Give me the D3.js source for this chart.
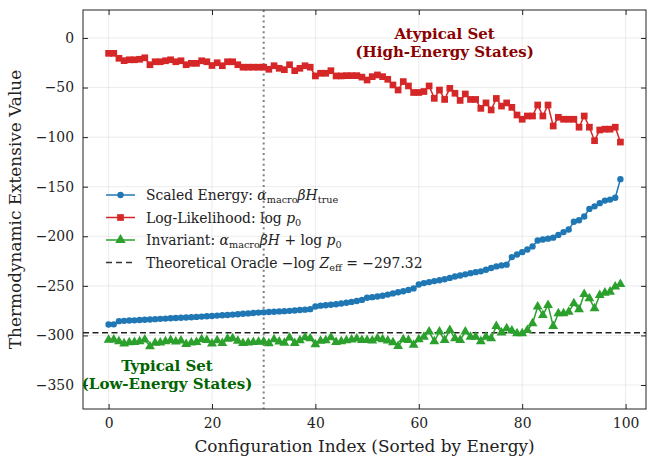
<!DOCTYPE html>
<html>
<head>
<meta charset="utf-8">
<script src="https://cdn.jsdelivr.net/npm/d3@7"></script>
<style>
  body { margin: 0; background: #fff; }
  svg { font-family: "DejaVu Serif", serif; }
</style>
</head>
<body>
<div id="chart"></div>
<script>
// values, index 0..99
var energy = [-289.0,-288.8,-285.6,-285.3,-285.0,-284.8,-284.5,-284.2,-284.0,-283.6,
  -283.3,-283.0,-282.7,-282.4,-282.2,-281.9,-281.6,-281.3,-281.0,-280.7,
  -280.4,-280.0,-279.7,-279.4,-279.0,-278.6,-278.2,-277.8,-277.4,-277.0,
  -276.7,-276.4,-276.1,-275.8,-275.5,-275.2,-274.8,-274.4,-274.0,-273.5,
  -270.8,-270.0,-269.5,-269.0,-268.5,-267.8,-267.0,-266.2,-265.3,-264.2,
  -262.0,-261.4,-260.8,-260.0,-258.8,-257.6,-256.5,-255.4,-254.2,-252.6,
  -248.6,-247.2,-246.2,-245.2,-244.4,-243.4,-242.0,-240.6,-239.6,-238.4,
  -237.2,-236.2,-235.4,-233.8,-232.0,-230.4,-229.4,-228.6,-221.0,-218.4,
  -216.0,-213.4,-210.2,-204.2,-203.2,-202.4,-201.4,-198.6,-195.8,-193.2,
  -185.4,-183.8,-180.0,-172.4,-169.8,-166.6,-164.0,-163.0,-161.2,-142.4];

var logLik = [-15.5,-15.5,-20.5,-22.9,-22.0,-22.0,-21.5,-20.0,-27.0,-24.0,
  -24.0,-23.0,-22.0,-24.0,-23.0,-27.0,-25.6,-25.6,-23.0,-24.0,
  -27.8,-25.0,-28.0,-24.0,-24.0,-27.0,-29.5,-29.5,-29.5,-29.5,
  -29.5,-31.6,-28.0,-30.6,-32.0,-27.0,-33.0,-30.6,-28.0,-29.5,
  -38.3,-35.6,-35.6,-33.0,-38.3,-38.3,-38.0,-38.0,-38.0,-39.5,
  -42.4,-39.0,-37.3,-39.0,-41.7,-47.4,-52.5,-44.0,-48.4,-55.0,
  -55.0,-54.0,-48.4,-60.9,-52.5,-62.0,-50.8,-55.8,-63.0,-56.5,
  -62.0,-62.0,-71.0,-65.5,-72.6,-61.0,-68.7,-65.5,-70.0,-77.7,
  -82.0,-78.7,-78.7,-67.6,-78.7,-67.6,-88.8,-80.0,-82.0,-82.0,
  -82.0,-90.0,-78.7,-90.0,-103.6,-92.8,-92.0,-92.0,-90.0,-105.0];

var invariant = [-304.5,-304.3,-306.1,-308.2,-307.0,-306.8,-306.0,-304.2,-311.0,-307.6,
  -307.3,-306.0,-304.7,-306.4,-305.2,-308.9,-307.2,-306.9,-304.0,-304.7,
  -308.2,-305.0,-307.7,-303.4,-303.0,-305.6,-307.7,-307.3,-306.9,-306.5,
  -306.2,-308.0,-304.1,-306.4,-307.5,-302.2,-307.8,-305.0,-302.0,-303.0,
  -309.1,-305.6,-305.1,-302.0,-306.8,-306.1,-305.0,-304.2,-303.3,-304.7,
  -304.7,-305.4,-303.0,-304.0,-305.4,-307.0,-310.8,-304.0,-304.7,-309.5,
  -304.0,-301.4,-296.3,-306.0,-296.3,-304.7,-294.6,-303.0,-304.7,-296.3,
  -301.4,-301.4,-306.0,-301.4,-303.0,-290.6,-297.3,-293.0,-295.3,-298.0,
  -298.0,-294.6,-288.0,-271.1,-279.5,-269.4,-290.6,-277.8,-277.8,-276.2,
  -267.7,-273.8,-258.3,-262.7,-272.8,-259.4,-257.0,-256.0,-250.9,-248.2];

var oracle = -297.32;
var splitIndex = 30;
var xTicks = [0, 20, 40, 60, 80, 100];
var yTicks = [0, -50, -100, -150, -200, -250, -300, -350];

var W = 652, H = 456;
var margin = {top: 10, right: 6, bottom: 47, left: 83};
var width = W - margin.left - margin.right;
var height = H - margin.top - margin.bottom;

var svg = d3.select("#chart").append("svg")
  .attr("width", W).attr("height", H);

var x = d3.scaleLinear().domain([-4.95, 103.95]).range([0, width]);
var y = d3.scaleLinear().domain([-374.2, 28.2]).range([height, 0]);

var g = svg.append("g")
  .attr("transform", "translate(" + margin.left + "," + margin.top + ")");

var fmt = function(d) { return d < 0 ? "\u2212" + Math.abs(d) : "" + d; };

// grid
g.append("g").selectAll("line").data(xTicks).enter().append("line")
  .attr("x1", function(d) { return x(d); }).attr("x2", function(d) { return x(d); })
  .attr("y1", 0).attr("y2", height)
  .attr("stroke", "#b0b0b0").attr("stroke-opacity", 0.3).attr("stroke-width", 0.8);
g.append("g").selectAll("line").data(yTicks).enter().append("line")
  .attr("y1", function(d) { return y(d); }).attr("y2", function(d) { return y(d); })
  .attr("x1", 0).attr("x2", width)
  .attr("stroke", "#b0b0b0").attr("stroke-opacity", 0.3).attr("stroke-width", 0.8);

// axes, ticks pointing in
var xAxis = g.append("g").attr("transform", "translate(0," + height + ")")
  .call(d3.axisBottom(x).tickValues(xTicks).tickSizeInner(-5).tickSizeOuter(0).tickPadding(9).tickFormat(fmt));
var xAxisTop = g.append("g")
  .call(d3.axisTop(x).tickValues(xTicks).tickSizeInner(-5).tickSizeOuter(0).tickFormat(""));
var yAxis = g.append("g")
  .call(d3.axisLeft(y).tickValues(yTicks).tickSizeInner(-5).tickSizeOuter(0).tickPadding(9).tickFormat(fmt));
var yAxisRight = g.append("g").attr("transform", "translate(" + width + ",0)")
  .call(d3.axisRight(y).tickValues(yTicks).tickSizeInner(-5).tickSizeOuter(0).tickFormat(""));
[xAxis, xAxisTop, yAxis, yAxisRight].forEach(function(a) {
  a.select(".domain").remove();
  a.selectAll("line").attr("stroke", "#222").attr("stroke-width", 1);
  a.selectAll("text").attr("font-family", "DejaVu Serif").attr("font-size", 13.9).attr("fill", "#222");
});

// reference lines
g.append("line")
  .attr("x1", x(splitIndex)).attr("x2", x(splitIndex)).attr("y1", 0).attr("y2", height)
  .attr("stroke", "#808080").attr("stroke-width", 2).attr("stroke-dasharray", "2,3.3");
g.append("line")
  .attr("x1", 0).attr("x2", width).attr("y1", y(oracle)).attr("y2", y(oracle))
  .attr("stroke", "#222").attr("stroke-width", 1.5).attr("stroke-dasharray", "6,3.5");

var line = d3.line().x(function(d, i) { return x(i); }).y(function(d) { return y(d); });

var series = [
  {data: energy, color: "#1f77b4", shape: d3.symbolCircle, size: 32},
  {data: logLik, color: "#d62728", shape: d3.symbolSquare, size: 45},
  {data: invariant, color: "#2ca02c", shape: d3.symbolTriangle, size: 42}
];

series.forEach(function(s) {
  g.append("path").datum(s.data)
    .attr("fill", "none").attr("stroke", s.color).attr("stroke-width", 1.5)
    .attr("d", line);
  g.append("g").selectAll("path").data(s.data).enter().append("path")
    .attr("d", d3.symbol().type(s.shape).size(s.size))
    .attr("transform", function(d, i) { return "translate(" + x(i) + "," + y(d) + ")"; })
    .attr("fill", s.color);
});

// frame
g.append("rect").attr("width", width).attr("height", height)
  .attr("fill", "none").attr("stroke", "#222").attr("stroke-width", 1);

// annotations
var atyp = g.append("text").attr("text-anchor", "middle")
  .attr("font-weight", "bold").attr("font-size", 15).attr("fill", "#8b0000");
atyp.append("tspan").attr("x", x(65)).attr("y", y(-1)).text("Atypical Set");
atyp.append("tspan").attr("x", x(65)).attr("dy", 18).text("(High-Energy States)");

var typ = g.append("text").attr("text-anchor", "middle")
  .attr("font-weight", "bold").attr("font-size", 15).attr("fill", "#006400");
typ.append("tspan").attr("x", x(11.3)).attr("y", y(-336)).text("Typical Set");
typ.append("tspan").attr("x", x(11.3)).attr("dy", 18).text("(Low-Energy States)");

// legend
var legend = g.append("g").attr("transform", "translate(23,185)");
var legendItems = [
  {color: "#1f77b4", shape: d3.symbolCircle, size: 32, dash: null},
  {color: "#d62728", shape: d3.symbolSquare, size: 45, dash: null},
  {color: "#2ca02c", shape: d3.symbolTriangle, size: 48, dash: null},
  {color: "#333", shape: null, size: 0, dash: "6,4"}
];
var rowH = 22.5;
legendItems.forEach(function(it, i) {
  var row = legend.append("g").attr("transform", "translate(0," + (i * rowH) + ")");
  row.append("line").attr("x1", 0).attr("x2", 29).attr("y1", 0).attr("y2", 0)
    .attr("stroke", it.color).attr("stroke-width", 1.5)
    .attr("stroke-dasharray", it.dash);
  if (it.shape) {
    row.append("path").attr("d", d3.symbol().type(it.shape).size(it.size))
      .attr("transform", "translate(14.5,0)").attr("fill", it.color);
  }
});

function addLabel(i, parts) {
  var t = legend.append("text").attr("x", 40).attr("y", i * rowH + 5)
    .attr("font-size", 13.9).attr("fill", "#222");
  parts.forEach(function(p) {
    var ts = t.append("tspan").text(p.t);
    if (p.it) ts.attr("font-style", "italic");
    if (p.sub) ts.attr("font-size", 9.7).attr("dy", 3);
    if (p.up) ts.attr("dy", -3);
  });
}
addLabel(0, [{t: "Scaled Energy: "}, {t: "\u03b1", it: 1}, {t: "macro", sub: 1}, {t: "\u03b2H", it: 1, up: 1}, {t: "true", sub: 1}]);
addLabel(1, [{t: "Log-Likelihood: log "}, {t: "p", it: 1}, {t: "0", sub: 1}]);
addLabel(2, [{t: "Invariant: "}, {t: "\u03b1", it: 1}, {t: "macro", sub: 1}, {t: "\u03b2H", it: 1, up: 1}, {t: " + log "}, {t: "p", it: 1}, {t: "0", sub: 1}]);
addLabel(3, [{t: "Theoretical Oracle \u2212log "}, {t: "Z", it: 1}, {t: "eff", sub: 1}, {t: " = \u2212297.32", up: 1}]);

// axis titles
svg.append("text").attr("x", margin.left + width / 2).attr("y", 452)
  .attr("text-anchor", "middle").attr("font-size", 16.9).attr("fill", "#222")
  .text("Configuration Index (Sorted by Energy)");
svg.append("text")
  .attr("transform", "translate(21," + (margin.top + height / 2) + ") rotate(-90)")
  .attr("text-anchor", "middle").attr("font-size", 16.9).attr("fill", "#222")
  .text("Thermodynamic Extensive Value");
</script>
</body>
</html>
